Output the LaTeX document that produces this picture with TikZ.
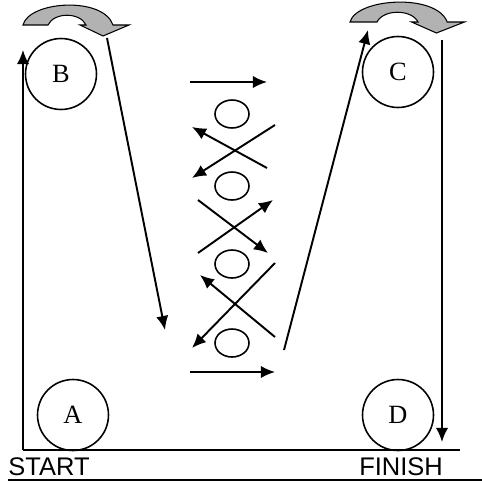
\documentclass[tikz,border=0pt]{standalone}
\usepackage{fontspec}
\setmainfont{Liberation Serif}
\newfontfamily\signfont{Liberation Sans}
\usetikzlibrary{arrows.meta,shapes.geometric}

\tikzset{
  roller/.style={circle,draw,line width=0.9pt,minimum size=1.42cm,inner sep=0pt,font=\fontsize{15}{15}\selectfont},
  cone/.style={ellipse,draw,line width=0.9pt,minimum width=0.68cm,minimum height=0.56cm,inner sep=0pt},
  run/.style={line width=1.1pt,-{Latex[length=8pt,width=7pt]}},
  sign/.style={font=\signfont\fontsize{14.5}{15}\selectfont},
  pics/turn/.style={code={
    \filldraw[fill=gray!60,line width=0.6pt] (0,0) .. controls (6,-24) and (80,-29) .. (90,0)
      -- (106,0) -- (80,11) -- (57,0) -- (63,0) .. controls (57,-13) and (31,-13) .. (25,0) -- cycle;
  }}
}

\begin{document}
\begin{tikzpicture}[x=0.02cm,y=-0.02cm]
	\useasboundingbox (0,0) rectangle (482,483);

	% turning arrows
	\pic at (23,25) {turn};
	\pic[xscale=1.08] at (350,22) {turn};

	% rollers
	\node[roller] (B) at (61,74) {B};
	\node[roller] (C) at (398,72) {C};
	\node[roller] (A) at (73,415) {A};
	\node[roller] (D) at (398,415) {D};

	% cones down the middle
	\foreach \n/\y in {1/114,2/186,3/264,4/343}
		\node[cone] (o\n) at (232,\y) {};

	% floor
	\coordinate (s0) at (23,450);
	\coordinate (f0) at (460,450);
	\draw[line width=1pt] (s0) -- (f0);
	\coordinate (l0) at (8,480);
	\coordinate (l1) at (482,480);
	\draw[line width=1pt] (l0) -- (l1);
	\node[sign] (start) at (49,467) {START};
	\node[sign] (finish) at (401,467) {FINISH};

	% run path
	\coordinate (s1) at (23,50);
	\coordinate (b0) at (107,38);
	\coordinate (b1) at (165,330);
	\coordinate (c0) at (284,350);
	\coordinate (c1) at (368,30);
	\coordinate (d0) at (442,40);
	\coordinate (d1) at (442,442);
	\draw[run] (s0) -- (s1);
	\draw[run] (b0) -- (b1);
	\draw[run] (c0) -- (c1);
	\draw[run] (d0) -- (d1);

	% weaving between the cones
	\coordinate (t0) at (190,82);   \coordinate (t1) at (267,82);
	\coordinate (x1) at (267,168);  \coordinate (x2) at (192,127);
	\coordinate (x3) at (275,125);  \coordinate (x4) at (192,178);
	\coordinate (y1) at (198,200);  \coordinate (y2) at (268,253);
	\coordinate (y3) at (198,253);  \coordinate (y4) at (273,200);
	\coordinate (z1) at (275,337);  \coordinate (z2) at (200,275);
	\coordinate (z3) at (275,263);  \coordinate (z4) at (192,348);
	\coordinate (u0) at (190,372);  \coordinate (u1) at (275,372);
	\foreach \p/\q in {t0/t1,x1/x2,x3/x4,y1/y2,y3/y4,z1/z2,z3/z4,u0/u1}
		\draw[run] (\p) -- (\q);
\end{tikzpicture}
\end{document}
